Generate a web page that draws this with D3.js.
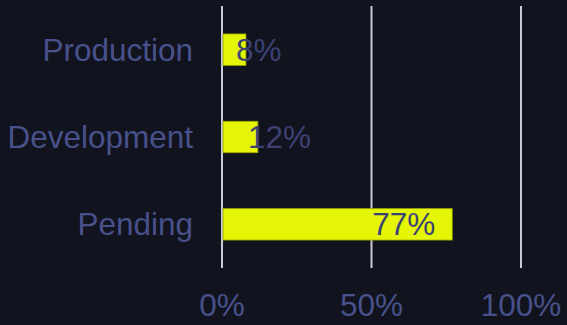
<!DOCTYPE html>
<html>
<head>
<meta charset="utf-8">
<script src="https://cdn.jsdelivr.net/npm/d3@7"></script>
<style>
  html, body { margin: 0; padding: 0; background: #11131f; }
  svg { display: block; font-family: "Liberation Sans", Arial, sans-serif; }
  .grid line { stroke: #c9c9d9; stroke-width: 2; }
  .cat-label { fill: #48518a; font-size: 31.5px; }
  .tick-label { fill: #48518a; font-size: 31.5px; }
  .value-label { fill: #3c4273; font-size: 31.5px; }
</style>
</head>
<body>
<div id="wrapper"></div>
<script>
// data
const categories = ["Production", "Development", "Pending"];
const values = [8, 12, 77];
const tickValues = [0, 50, 100];
const tickLabels = ["0%", "50%", "100%"];

function drawChart() {
  let dimensions = {
    width: 567,
    height: 325,
    margin: { top: 6, right: 46, bottom: 57, left: 222 },
  };
  dimensions.plotWidth = dimensions.width - dimensions.margin.left - dimensions.margin.right;
  dimensions.plotHeight = dimensions.height - dimensions.margin.top - dimensions.margin.bottom;

  const svg = d3.select("#wrapper")
    .append("svg")
    .attr("width", dimensions.width)
    .attr("height", dimensions.height);

  const plot = svg.append("g")
    .attr("transform", `translate(${dimensions.margin.left}, ${dimensions.margin.top})`);

  // scales
  const xScale = d3.scaleLinear()
    .domain([0, 100])
    .range([0, dimensions.plotWidth]);

  const yScale = d3.scaleBand()
    .domain(categories)
    .range([0, dimensions.plotHeight])
    .padding(0);

  const barHeight = yScale.bandwidth() * 0.36;

  // gridlines
  plot.append("g")
    .attr("class", "grid")
    .selectAll("line")
    .data(tickValues)
    .join("line")
    .attr("x1", d => xScale(d))
    .attr("x2", d => xScale(d))
    .attr("y1", 0)
    .attr("y2", dimensions.plotHeight);

  // bars
  const rows = categories.map((c, i) => ({ category: c, value: values[i] }));

  plot.selectAll(".bar")
    .data(rows)
    .join("rect")
    .attr("class", "bar")
    .attr("x", xScale(0) + 1)
    .attr("y", d => yScale(d.category) + yScale.bandwidth() / 2 - barHeight / 2)
    .attr("width", d => xScale(d.value) - xScale(0) - 1)
    .attr("height", barHeight)
    .attr("fill", "#e4f505")
    .attr("stroke", "#9aa300")
    .attr("stroke-width", 0.8);

  // category labels
  plot.selectAll(".cat-label")
    .data(rows)
    .join("text")
    .attr("class", "cat-label")
    .attr("x", -29)
    .attr("y", d => yScale(d.category) + yScale.bandwidth() / 2)
    .attr("dy", "0.35em")
    .attr("text-anchor", "end")
    .text(d => d.category);

  // value labels
  plot.selectAll(".value-label")
    .data(rows)
    .join("text")
    .attr("class", "value-label")
    .attr("x", d => {
      const w = xScale(d.value);
      return w > 100 ? w - 17 : w - 10;
    })
    .attr("y", d => yScale(d.category) + yScale.bandwidth() / 2)
    .attr("dy", "0.35em")
    .attr("text-anchor", d => xScale(d.value) > 100 ? "end" : "start")
    .text(d => d.value + "%");

  // x tick labels
  plot.selectAll(".tick-label")
    .data(tickValues)
    .join("text")
    .attr("class", "tick-label")
    .attr("x", d => xScale(d))
    .attr("y", dimensions.plotHeight + 48)
    .attr("text-anchor", "middle")
    .text((d, i) => tickLabels[i]);
}
drawChart();
</script>
</body>
</html>
